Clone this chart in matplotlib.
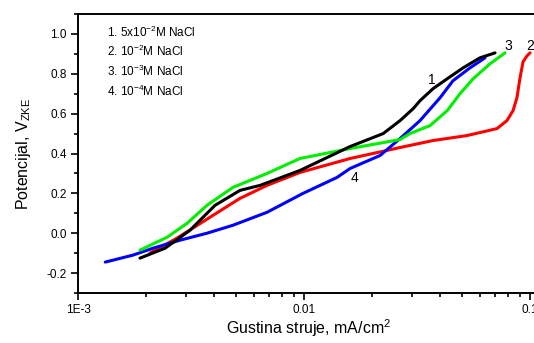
import matplotlib
matplotlib.use("Agg")
import matplotlib.pyplot as plt
from matplotlib.ticker import MultipleLocator, FixedLocator, LogLocator, NullFormatter

plt.rcParams['font.family'] = ['Liberation Sans', 'DejaVu Sans']
plt.rcParams['mathtext.fontset'] = 'custom'
plt.rcParams['mathtext.rm'] = 'Liberation Sans'
plt.rcParams['mathtext.it'] = 'Liberation Sans'
plt.rcParams['axes.unicode_minus'] = False

# curve 1: 5x10^-2 M NaCl (black)
x1 = [1.88e-3, 2.43e-3, 3.13e-3, 4.04e-3, 5.21e-3, 6.39e-3, 9.6e-3, 0.016, 0.0224,
      0.0266, 0.0304, 0.0326, 0.0372, 0.043, 0.0506, 0.060, 0.070]
y1 = [-0.125, -0.075, 0.015, 0.14, 0.215, 0.24, 0.315, 0.435, 0.50,
      0.565, 0.625, 0.665, 0.725, 0.775, 0.83, 0.88, 0.905]
# curve 2: 10^-2 M NaCl (red)
x2 = [2.08e-3, 2.74e-3, 3.96e-3, 5.21e-3, 6.86e-3, 9.6e-3, 0.016, 0.0266, 0.0372,
      0.0526, 0.0714, 0.079, 0.0841, 0.0875, 0.0903, 0.0931, 0.097, 0.100]
y2 = [-0.10, -0.025, 0.09, 0.175, 0.24, 0.305, 0.375, 0.43, 0.465,
      0.49, 0.525, 0.565, 0.615, 0.68, 0.78, 0.86, 0.89, 0.905]
# curve 3: 10^-3 M NaCl (green)
x3 = [1.88e-3, 2.48e-3, 3.04e-3, 3.72e-3, 4.85e-3, 6.86e-3, 9.6e-3, 0.016, 0.0266,
      0.0294, 0.0361, 0.043, 0.049, 0.056, 0.0665, 0.0775]
y3 = [-0.085, -0.02, 0.05, 0.14, 0.23, 0.30, 0.375, 0.425, 0.47,
      0.50, 0.54, 0.615, 0.70, 0.775, 0.85, 0.905]
# curve 4: 10^-4 M NaCl (blue)
x4 = [1.32e-3, 1.75e-3, 2.15e-3, 2.83e-3, 3.72e-3, 4.85e-3, 6.86e-3, 9.9e-3, 0.014,
      0.016, 0.0217, 0.0266, 0.0326, 0.040, 0.0456, 0.0543, 0.0632]
y4 = [-0.145, -0.11, -0.075, -0.035, 0.0, 0.04, 0.105, 0.20, 0.28,
      0.325, 0.39, 0.475, 0.565, 0.68, 0.765, 0.83, 0.88]

legend_lines = ["1. 5x10$^{-2}$M NaCl", "2. 10$^{-2}$M NaCl",
                "3. 10$^{-3}$M NaCl", "4. 10$^{-4}$M NaCl"]
curve_labels = ["1", "2", "3", "4"]
label_pos = [(0.0367, 0.77), (0.1005, 0.94), (0.080, 0.94), (0.0168, 0.275)]

fig = plt.figure(figsize=(5.34, 3.43), dpi=100)
ax = fig.add_axes([78/534, 50/343, 461.4/534, 279/343])

for xs, ys, c in [(x2, y2, '#ff0000'), (x4, y4, '#0000ff'),
                  (x3, y3, '#00ee00'), (x1, y1, '#000000')]:
    ax.plot(xs, ys, color=c, lw=2.2, solid_capstyle='round')

ax.set_xscale('log')
ax.set_xlim(1e-3, 0.11)
ax.set_ylim(-0.3, 1.1)
ax.xaxis.set_major_locator(FixedLocator([1e-3, 1e-2, 1e-1]))
ax.set_xticklabels(['1E-3', '0.01', '0.1'])
ax.xaxis.set_minor_locator(LogLocator(base=10, subs=range(2, 10)))
ax.xaxis.set_minor_formatter(NullFormatter())
ax.yaxis.set_major_locator(FixedLocator([-0.2, 0.0, 0.2, 0.4, 0.6, 0.8, 1.0]))
ax.set_yticklabels(['-0.2', '0.0', '0.2', '0.4', '0.6', '0.8', '1.0'])
ax.yaxis.set_minor_locator(MultipleLocator(0.1))
ax.tick_params(which='major', direction='out', length=5, width=1.2, labelsize=8.5, pad=3)
ax.tick_params(which='minor', direction='out', length=3, width=1.2)
for s in ax.spines.values():
    s.set_linewidth(1.4)

ax.set_xlabel('Gustina struje, mA/cm$^2$', fontsize=11.5, labelpad=1)
ax.set_ylabel('Potencijal, V$_{\\mathrm{ZKE}}$', fontsize=11.5, labelpad=10)

for i, t in enumerate(legend_lines):
    ax.text(0.062, 0.935 - i * 0.0705, t, transform=ax.transAxes, fontsize=8.5,
            va='center', ha='left')

for t, (lx, ly) in zip(curve_labels, label_pos):
    ax.text(lx, ly, t, fontsize=10, ha='center', va='center')

fig.savefig('out.png', dpi=100)
